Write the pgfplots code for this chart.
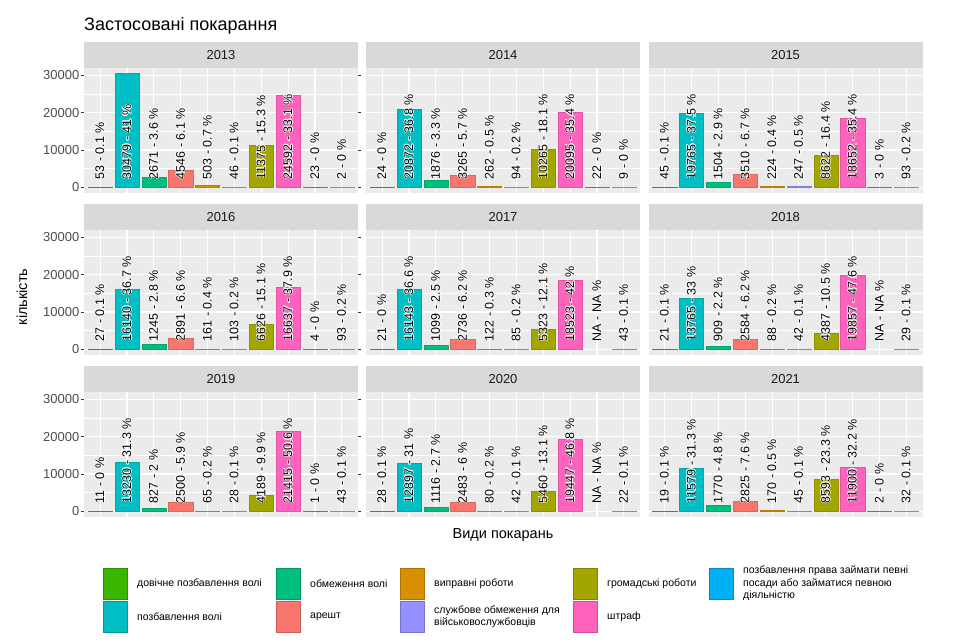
\documentclass[border=0pt]{standalone}
\usepackage{fontspec}
\setmainfont{Liberation Sans}
\usepackage{pgfplots}
\usepackage{pgfplotstable}
\usepackage{contour}
\contourlength{0.5pt}
\contournumber{16}
\pgfplotsset{compat=1.18}

\definecolor{c1}{HTML}{39B600}
\definecolor{c2}{HTML}{00BFC4}
\definecolor{c3}{HTML}{00BF7D}
\definecolor{c4}{HTML}{F8766D}
\definecolor{c5}{HTML}{D89000}
\definecolor{c6}{HTML}{9590FF}
\definecolor{c7}{HTML}{A3A500}
\definecolor{c8}{HTML}{FF62BC}
\definecolor{c9}{HTML}{00B0F6}
\definecolor{c10}{HTML}{E76BF3}
\definecolor{panelbg}{HTML}{EBEBEB}
\definecolor{stripbg}{HTML}{D9D9D9}
\definecolor{gray10}{HTML}{1A1A1A}
\definecolor{gray20}{HTML}{333333}
\definecolor{gray30}{HTML}{4D4D4D}

\newcommand\labfont{\fontsize{12.5}{13}\selectfont}

\pgfplotstableread{
x y b l
1 53 0 {53 - 0.1 \%}
2 30479 0 {30479 - 41 \%}
3 2671 0 {2671 - 3.6 \%}
4 4546 0 {4546 - 6.1 \%}
5 503 0 {503 - 0.7 \%}
6 46 0 {46 - 0.1 \%}
7 11375 0 {11375 - 15.3 \%}
8 24592 0 {24592 - 33.1 \%}
9 23 0 {23 - 0 \%}
10 2 0 {2 - 0 \%}
}\tA
\pgfplotstableread{
x y b l
1 24 0 {24 - 0 \%}
2 20872 0 {20872 - 36.8 \%}
3 1876 0 {1876 - 3.3 \%}
4 3265 0 {3265 - 5.7 \%}
5 262 0 {262 - 0.5 \%}
6 94 0 {94 - 0.2 \%}
7 10265 0 {10265 - 18.1 \%}
8 20095 0 {20095 - 35.4 \%}
9 22 0 {22 - 0 \%}
10 9 0 {9 - 0 \%}
}\tB
\pgfplotstableread{
x y b l
1 45 0 {45 - 0.1 \%}
2 19765 0 {19765 - 37.5 \%}
3 1504 0 {1504 - 2.9 \%}
4 3510 0 {3510 - 6.7 \%}
5 224 0 {224 - 0.4 \%}
6 247 0 {247 - 0.5 \%}
7 8622 0 {8622 - 16.4 \%}
8 18652 0 {18652 - 35.4 \%}
9 3 0 {3 - 0 \%}
10 93 0 {93 - 0.2 \%}
}\tC
\pgfplotstableread{
x y b l
1 27 0 {27 - 0.1 \%}
2 16140 0 {16140 - 36.7 \%}
3 1245 0 {1245 - 2.8 \%}
4 2891 0 {2891 - 6.6 \%}
5 161 0 {161 - 0.4 \%}
6 103 0 {103 - 0.2 \%}
7 6626 0 {6626 - 15.1 \%}
8 16637 0 {16637 - 37.9 \%}
9 4 0 {4 - 0 \%}
10 93 0 {93 - 0.2 \%}
}\tD
\pgfplotstableread{
x y b l
1 21 0 {21 - 0 \%}
2 16143 0 {16143 - 36.6 \%}
3 1099 0 {1099 - 2.5 \%}
4 2736 0 {2736 - 6.2 \%}
5 122 0 {122 - 0.3 \%}
6 85 0 {85 - 0.2 \%}
7 5323 0 {5323 - 12.1 \%}
8 18523 0 {18523 - 42 \%}
9 nan 0 {NA - NA \%}
10 43 0 {43 - 0.1 \%}
}\tE
\pgfplotstableread{
x y b l
1 21 0 {21 - 0.1 \%}
2 13765 0 {13765 - 33 \%}
3 909 0 {909 - 2.2 \%}
4 2584 0 {2584 - 6.2 \%}
5 88 0 {88 - 0.2 \%}
6 42 0 {42 - 0.1 \%}
7 4387 0 {4387 - 10.5 \%}
8 19857 0 {19857 - 47.6 \%}
9 nan 0 {NA - NA \%}
10 29 0 {29 - 0.1 \%}
}\tF
\pgfplotstableread{
x y b l
1 11 0 {11 - 0 \%}
2 13230 0 {13230 - 31.3 \%}
3 827 0 {827 - 2 \%}
4 2500 0 {2500 - 5.9 \%}
5 65 0 {65 - 0.2 \%}
6 28 0 {28 - 0.1 \%}
7 4189 0 {4189 - 9.9 \%}
8 21415 0 {21415 - 50.6 \%}
9 1 0 {1 - 0 \%}
10 43 0 {43 - 0.1 \%}
}\tG
\pgfplotstableread{
x y b l
1 28 0 {28 - 0.1 \%}
2 12897 0 {12897 - 31 \%}
3 1116 0 {1116 - 2.7 \%}
4 2483 0 {2483 - 6 \%}
5 80 0 {80 - 0.2 \%}
6 42 0 {42 - 0.1 \%}
7 5460 0 {5460 - 13.1 \%}
8 19447 0 {19447 - 46.8 \%}
9 nan 0 {NA - NA \%}
10 22 0 {22 - 0.1 \%}
}\tH
\pgfplotstableread{
x y b l
1 19 0 {19 - 0.1 \%}
2 11579 0 {11579 - 31.3 \%}
3 1770 0 {1770 - 4.8 \%}
4 2825 0 {2825 - 7.6 \%}
5 170 0 {170 - 0.5 \%}
6 45 0 {45 - 0.1 \%}
7 8593 0 {8593 - 23.3 \%}
8 11900 0 {11900 - 32.2 \%}
9 2 0 {2 - 0 \%}
10 32 0 {32 - 0.1 \%}
}\tI

\pgfplotsset{
  facet/.style={
    width=274pt, height=125pt, scale only axis, anchor=north west,
    xmin=0.4, xmax=10.6, ymin=-1524, ymax=32003,
    axis background/.style={fill=panelbg},
    axis line style={draw=none},
    xtick={1,...,10}, xticklabels={},
    ytick={0,10000,20000,30000}, minor ytick={5000,15000,25000},
    xmajorgrids, ymajorgrids, yminorgrids,
    major grid style={white, line width=1.1pt},
    minor grid style={white, line width=0.55pt},
    tick align=outside, major tick length=3pt, minor tick length=0pt,
    xtick style={draw=none},
    ytick style={draw=gray20, line width=0.8pt},
    scaled y ticks=false,
    /pgf/number format/assume math mode=true,
    /pgf/number format/1000 sep={},
    yticklabel style={font=\fontsize{13}{14}\selectfont, text=gray30, inner sep=1.5pt},
    clip=false,
  },
  noyt/.style={yticklabels={}, ytick style={draw=none}},
}

\newcommand{\facet}[5]{%
\begin{axis}[facet, at={(#3pt,#4pt)}, name=ax#2, #5]
\pgfplotsinvokeforeach{1,...,10}{%
  \addplot[ybar, bar width=0.9, bar shift=0pt, fill=c##1, draw=c##1!88!black, line width=0.4pt,
    restrict x to domain=##1:##1] table[x=x,y=y]{#1};
}
\addplot[draw=none, point meta=explicit symbolic,
  nodes near coords={\contour{white}{\pgfplotspointmeta}},
  every node near coord/.style={rotate=90, anchor=west, inner sep=0pt, xshift=8pt, font=\labfont, text=black}]
  table[x=x,y=b,meta=l]{#1};
\end{axis}
\fill[stripbg] (ax#2.north west) rectangle ([yshift=26pt]ax#2.north east);
\node[font=\fontsize{13}{14}\selectfont, text=gray10] at ([yshift=13pt]ax#2.north) {#2};
}

\begin{document}
\begin{tikzpicture}[x=1pt,y=1pt]
\path[use as bounding box, fill=white] (0,0) rectangle (956,642);
\node[anchor=base west, inner sep=0pt, font=\fontsize{18}{20}\selectfont] at (84,611) {Застосовані покарання};

\facet{\tA}{2013}{84}{574}{}
\facet{\tB}{2014}{366}{574}{noyt}
\facet{\tC}{2015}{648.5}{574}{noyt}
\facet{\tD}{2016}{84}{412}{}
\facet{\tE}{2017}{366}{412}{noyt}
\facet{\tF}{2018}{648.5}{412}{noyt}
\facet{\tG}{2019}{84}{250}{}
\facet{\tH}{2020}{366}{250}{noyt}
\facet{\tI}{2021}{648.5}{250}{noyt}

\node[rotate=90, font=\fontsize{14.5}{16}\selectfont] at (22,345) {кількість};
\node[font=\fontsize{14.5}{16}\selectfont] at (503,107) {Види покарань};

% legend
\newcommand{\lkey}[4]{%
  \filldraw[fill=#1, draw=#1!80!black, line width=0.5pt] (#2,#3) rectangle ++(24,31);
  \node[anchor=west, align=left, font=\fontsize{10.5}{12.5}\selectfont, inner sep=0pt] at (#2+34,#3+15.5) {#4};
}
\lkey{c1}{103}{43}{довічне позбавлення волі}
\lkey{c2}{103}{10}{позбавлення волі}
\lkey{c3}{276}{43}{обмеження волі}
\lkey{c4}{276}{10}{арешт}
\lkey{c5}{400}{43}{виправні роботи}
\lkey{c6}{400}{10}{службове обмеження для\\військовослужбовців}
\lkey{c7}{573}{43}{громадські роботи}
\lkey{c8}{573}{10}{штраф}
\lkey{c9}{709}{43}{позбавлення права займати певні\\посади або займатися певною\\діяльністю}
\end{tikzpicture}
\end{document}
